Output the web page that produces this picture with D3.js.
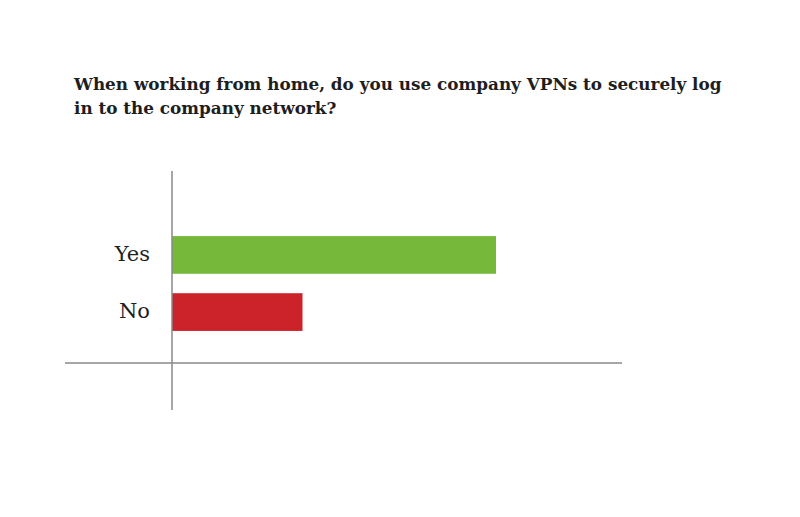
<!DOCTYPE html>
<html>
<head>
<meta charset="utf-8">
<script src="https://cdn.jsdelivr.net/npm/d3@7"></script>
<style>
  body { margin: 0; background: #fff; }
</style>
</head>
<body>
<svg id="bar-chart" width="800" height="517"></svg>
<script>
const titleLines = [
  "When working from home, do you use company VPNs to securely log",
  "in to the company network?"
];
const categories = ["Yes", "No"];
const values = [72, 29];
const colors = ["#76b93a", "#cc2229"];

function drawBarChart() {
  const svg = d3.select("#bar-chart");
  svg.selectAll("*").remove();

  // Title, sized so the first line spans the same width as the original
  const title = svg.append("g")
    .style("font-family", "'DejaVu Serif', serif")
    .style("font-weight", "bold")
    .style("font-size", "20px")
    .attr("fill", "#1e1e1e");

  title.selectAll("text")
    .data(titleLines)
    .enter()
    .append("text")
    .attr("x", 74)
    .attr("y", (d, i) => 90 + i * 24)
    .text(d => d);

  const w = title.select("text").node().getComputedTextLength();
  title.style("font-size", (20 * 648 / w) + "px");

  const x = d3.scaleLinear()
    .domain([0, 100])
    .range([172, 622]);

  const y = d3.scaleBand()
    .domain(categories)
    .range([207.5, 359.5])
    .paddingInner(0.34)
    .paddingOuter(0.5);

  // Bars
  svg.selectAll(".bar")
    .data(categories)
    .enter()
    .append("rect")
    .attr("class", "bar")
    .attr("x", x(0))
    .attr("y", d => y(d))
    .attr("width", (d, i) => x(values[i]) - x(0))
    .attr("height", y.bandwidth())
    .attr("fill", (d, i) => colors[i]);

  // Category labels
  svg.selectAll(".label")
    .data(categories)
    .enter()
    .append("text")
    .attr("class", "label")
    .attr("x", 150)
    .attr("y", d => y(d) + y.bandwidth() / 2 + 6)
    .attr("text-anchor", "end")
    .attr("fill", "#1e1e1e")
    .style("font-family", "'DejaVu Serif', serif")
    .style("font-size", "21px")
    .text(d => d);

  // Axis lines
  svg.append("line")
    .attr("x1", x(0)).attr("x2", x(0))
    .attr("y1", 171).attr("y2", 410)
    .attr("stroke", "#888")
    .attr("stroke-width", 1.5);

  svg.append("line")
    .attr("x1", 65).attr("x2", x(100))
    .attr("y1", 363).attr("y2", 363)
    .attr("stroke", "#888")
    .attr("stroke-width", 1.5);
}

drawBarChart();
</script>
</body>
</html>
